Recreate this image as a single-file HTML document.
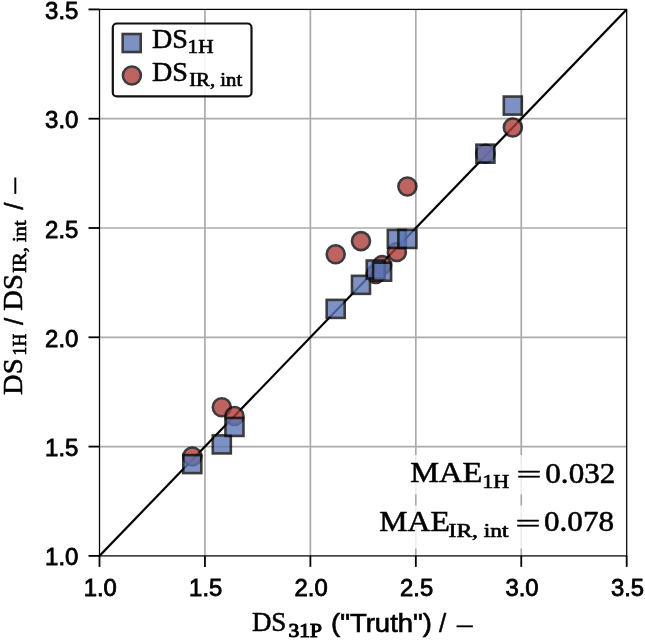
<!DOCTYPE html>
<html lang="en"><head><meta charset="utf-8"><title>DS parity plot</title>
<style>html,body{margin:0;padding:0;background:#fff}svg{display:block}.sans{font-family:"Liberation Sans",sans-serif}.serif{font-family:"Liberation Serif",serif}text{fill:#000}.serif{stroke:#000;stroke-width:0.55px}.sub{stroke-width:0.65px}</style></head><body>
<svg width="645" height="641" viewBox="0 0 645 641">
<rect width="645" height="641" fill="#fff"/>
<g stroke="#ababab" stroke-width="1.7"><line x1="204.94" y1="9.4" x2="204.94" y2="555.9"/><line x1="99.5" y1="446.60" x2="626.7" y2="446.60"/><line x1="310.38" y1="9.4" x2="310.38" y2="555.9"/><line x1="99.5" y1="337.30" x2="626.7" y2="337.30"/><line x1="415.82" y1="9.4" x2="415.82" y2="555.9"/><line x1="99.5" y1="228.00" x2="626.7" y2="228.00"/><line x1="521.26" y1="9.4" x2="521.26" y2="555.9"/><line x1="99.5" y1="118.70" x2="626.7" y2="118.70"/></g>
<clipPath id="ax"><rect x="99.5" y="9.4" width="527.20" height="546.50"/></clipPath>
<line x1="99.5" y1="555.9" x2="626.7" y2="9.4" stroke="#000" stroke-width="2.2" stroke-linecap="square" clip-path="url(#ax)"/>
<g fill="#b03d3a" stroke="#0c0c0c" stroke-width="2.6"><circle cx="192.29" cy="456.44" r="9.00" opacity="0.8"/><circle cx="221.81" cy="407.25" r="9.00" opacity="0.8"/><circle cx="234.46" cy="416.00" r="9.00" opacity="0.8"/><circle cx="335.69" cy="254.23" r="9.00" opacity="0.8"/><circle cx="360.99" cy="241.12" r="9.00" opacity="0.8"/><circle cx="375.75" cy="273.91" r="9.00" opacity="0.8"/><circle cx="382.08" cy="265.16" r="9.00" opacity="0.8"/><circle cx="396.84" cy="252.05" r="9.00" opacity="0.8"/><circle cx="407.38" cy="186.47" r="9.00" opacity="0.8"/><circle cx="485.41" cy="153.68" r="9.00" opacity="0.8"/><circle cx="512.82" cy="127.44" r="9.00" opacity="0.8"/></g>
<g fill="#5d76b6" stroke="#0c0c0c" stroke-width="2.6" stroke-linejoin="miter"><rect x="183.29" y="455.09" width="18.0" height="18.0" opacity="0.8"/><rect x="212.81" y="435.41" width="18.0" height="18.0" opacity="0.8"/><rect x="225.46" y="417.93" width="18.0" height="18.0" opacity="0.8"/><rect x="326.69" y="299.88" width="18.0" height="18.0" opacity="0.8"/><rect x="351.99" y="275.84" width="18.0" height="18.0" opacity="0.8"/><rect x="366.75" y="260.53" width="18.0" height="18.0" opacity="0.8"/><rect x="373.08" y="262.72" width="18.0" height="18.0" opacity="0.8"/><rect x="387.84" y="229.93" width="18.0" height="18.0" opacity="0.8"/><rect x="398.38" y="229.93" width="18.0" height="18.0" opacity="0.8"/><rect x="476.41" y="144.68" width="18.0" height="18.0" opacity="0.8"/><rect x="503.82" y="96.58" width="18.0" height="18.0" opacity="0.8"/></g>
<rect x="405" y="455" width="216" height="39.3" fill="#fff" opacity="0.8"/>
<rect x="374" y="505.5" width="247" height="43.1" fill="#fff" opacity="0.8"/>
<rect x="99.5" y="9.4" width="527.20" height="546.50" fill="none" stroke="#000" stroke-width="1.25"/>
<g stroke="#000" stroke-width="1.8"><line x1="99.50" y1="555.9" x2="99.50" y2="566.9"/><line x1="88.5" y1="555.90" x2="99.5" y2="555.90"/><line x1="204.94" y1="555.9" x2="204.94" y2="566.9"/><line x1="88.5" y1="446.60" x2="99.5" y2="446.60"/><line x1="310.38" y1="555.9" x2="310.38" y2="566.9"/><line x1="88.5" y1="337.30" x2="99.5" y2="337.30"/><line x1="415.82" y1="555.9" x2="415.82" y2="566.9"/><line x1="88.5" y1="228.00" x2="99.5" y2="228.00"/><line x1="521.26" y1="555.9" x2="521.26" y2="566.9"/><line x1="88.5" y1="118.70" x2="99.5" y2="118.70"/><line x1="626.70" y1="555.9" x2="626.70" y2="566.9"/><line x1="88.5" y1="9.40" x2="99.5" y2="9.40"/></g>
<g class="sans" font-size="23.8" stroke="#000" stroke-width="0.8"><text x="100.30" y="595.5" text-anchor="middle" textLength="33.2" lengthAdjust="spacingAndGlyphs">1.0</text><text x="78.5" y="565.40" text-anchor="end" textLength="33.4" lengthAdjust="spacingAndGlyphs">1.0</text><text x="205.74" y="595.5" text-anchor="middle" textLength="33.2" lengthAdjust="spacingAndGlyphs">1.5</text><text x="78.5" y="456.10" text-anchor="end" textLength="33.4" lengthAdjust="spacingAndGlyphs">1.5</text><text x="311.18" y="595.5" text-anchor="middle" textLength="33.2" lengthAdjust="spacingAndGlyphs">2.0</text><text x="78.5" y="346.80" text-anchor="end" textLength="33.4" lengthAdjust="spacingAndGlyphs">2.0</text><text x="416.62" y="595.5" text-anchor="middle" textLength="33.2" lengthAdjust="spacingAndGlyphs">2.5</text><text x="78.5" y="237.50" text-anchor="end" textLength="33.4" lengthAdjust="spacingAndGlyphs">2.5</text><text x="522.06" y="595.5" text-anchor="middle" textLength="33.2" lengthAdjust="spacingAndGlyphs">3.0</text><text x="78.5" y="128.20" text-anchor="end" textLength="33.4" lengthAdjust="spacingAndGlyphs">3.0</text><text x="627.50" y="595.5" text-anchor="middle" textLength="33.2" lengthAdjust="spacingAndGlyphs">3.5</text><text x="78.5" y="18.90" text-anchor="end" textLength="33.4" lengthAdjust="spacingAndGlyphs">3.5</text></g>
<rect x="112.8" y="23.5" width="138.7" height="72.9" rx="4" ry="4" fill="#fff" fill-opacity="0.88" stroke="#111" stroke-width="2.2"/>
<rect x="122.70" y="34.00" width="18.0" height="18.0" fill="#5d76b6" stroke="#0c0c0c" stroke-width="2.6" opacity="0.8"/>
<circle cx="131.9" cy="75.5" r="9.00" fill="#b03d3a" stroke="#0c0c0c" stroke-width="2.6" opacity="0.8"/>
<text class="serif" x="152.0" y="48.2" font-size="26.8" textLength="36" lengthAdjust="spacingAndGlyphs">DS</text>
<text class="serif sub" x="187.6" y="53.3" font-size="18.6" textLength="26" lengthAdjust="spacingAndGlyphs">1H</text>
<text class="serif" x="152.0" y="81.3" font-size="26.8" textLength="36" lengthAdjust="spacingAndGlyphs">DS</text>
<text class="serif sub" x="189.2" y="86.3" font-size="18.6" textLength="53" lengthAdjust="spacingAndGlyphs">IR, int</text>
<text class="serif" x="410.3" y="482" font-size="29.4" textLength="72" lengthAdjust="spacingAndGlyphs">MAE</text>
<text class="serif sub" x="482.2" y="487.8" font-size="19.6" textLength="27" lengthAdjust="spacingAndGlyphs">1H</text>
<text class="serif" x="516.6" y="483.3" font-size="25" textLength="25" lengthAdjust="spacingAndGlyphs">=</text>
<text class="serif" x="545.3" y="482.6" font-size="29.6" textLength="70" lengthAdjust="spacingAndGlyphs">0.032</text>
<text class="serif" x="379.2" y="530.6" font-size="29.4" textLength="70.6" lengthAdjust="spacingAndGlyphs">MAE</text>
<text class="serif sub" x="448.6" y="536.5" font-size="19.6" textLength="60" lengthAdjust="spacingAndGlyphs">IR, int</text>
<text class="serif" x="515.4" y="532.0" font-size="25" textLength="25" lengthAdjust="spacingAndGlyphs">=</text>
<text class="serif" x="544" y="531.2" font-size="29.6" textLength="70" lengthAdjust="spacingAndGlyphs">0.078</text>
<text class="serif" x="251.9" y="631.3" font-size="26.8" textLength="34.5" lengthAdjust="spacingAndGlyphs">DS</text>
<text class="serif sub" x="288.6" y="637.4" font-size="18.6" textLength="33.4" lengthAdjust="spacingAndGlyphs" style="stroke-width:1px">31P</text>
<text class="sans" x="331" y="631.8" font-size="26" textLength="101" lengthAdjust="spacingAndGlyphs" stroke="#000" stroke-width="0.65">(&quot;Truth&quot;)</text>
<text class="sans" x="439.0" y="631.8" font-size="26" stroke="#000" stroke-width="0.4">/</text>
<text class="serif" x="455.5" y="635.0" font-size="26" textLength="19" lengthAdjust="spacingAndGlyphs">−</text>
<g transform="translate(22.1,394.2) rotate(-90)">
<text class="serif" x="-0.7" y="0" font-size="26.8" textLength="36.5" lengthAdjust="spacingAndGlyphs">DS</text>
<text class="serif sub" x="38.8" y="4.1" font-size="18.6" textLength="21.5" lengthAdjust="spacingAndGlyphs">1H</text>
<text class="sans" x="69.2" y="0.5" font-size="26" stroke="#000" stroke-width="0.4">/</text>
<text class="serif" x="83.5" y="0" font-size="26.8" textLength="36.5" lengthAdjust="spacingAndGlyphs">DS</text>
<text class="serif sub" x="121.3" y="4.1" font-size="18.6" textLength="52.5" lengthAdjust="spacingAndGlyphs">IR, int</text>
<text class="sans" x="184.5" y="0.5" font-size="26" stroke="#000" stroke-width="0.4">/</text>
<text class="serif" x="199.3" y="2.3" font-size="26" textLength="19" lengthAdjust="spacingAndGlyphs">−</text>
</g>
</svg></body></html>
